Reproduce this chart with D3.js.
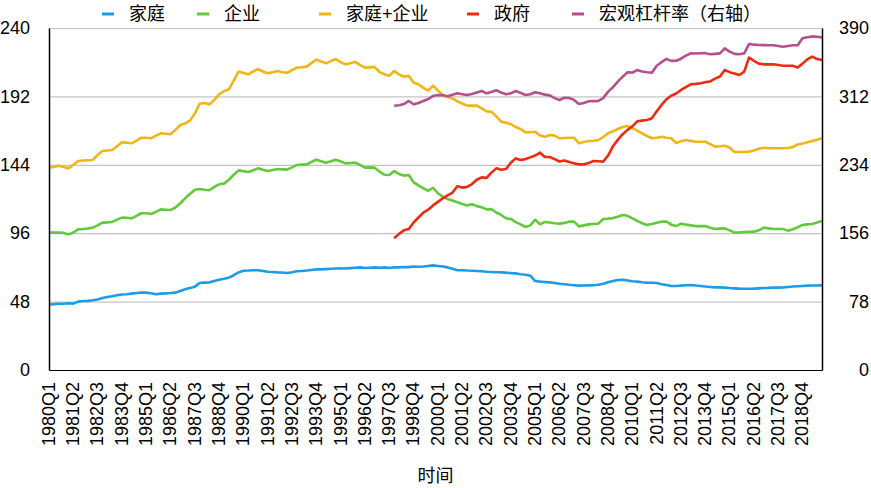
<!DOCTYPE html>
<html>
<head>
<meta charset="utf-8">
<script src="https://cdn.jsdelivr.net/npm/d3@7"></script>
<style>
  body { margin: 0; background: #fff; }
  svg { font-family: "Liberation Sans", Arial, "Noto Sans CJK SC", sans-serif; }
  .tick text { font-size: 18px; fill: #000; }
</style>
</head>
<body>
<svg width="871" height="488"></svg>
<script>
// quarters 1980Q1 .. 2019Q4
const years = d3.range(1980, 2020)
const quarters = years.flatMap(y => [1, 2, 3, 4].map(q => `${y}Q${q}`))

const leftTicks = [0, 48, 96, 144, 192, 240]
const rightTicks = [0, 78, 156, 234, 312, 390]

// 家庭
const household = [
  46.0, 46.2, 46.5, 46.5, 46.8, 46.6, 48.0, 48.4, 48.5, 48.9, 49.5, 50.5,
  51.2, 51.8, 52.5, 53.0, 53.2, 53.6, 54.0, 54.3, 54.3, 53.8, 53.2, 53.6,
  53.8, 54.0, 54.3, 55.5, 56.6, 57.5, 58.5, 61.0, 61.3, 61.5, 62.5, 63.3,
  64.0, 64.8, 66.5, 68.5, 69.7, 69.8, 70.0, 70.0, 69.5, 69.0, 68.8, 68.5,
  68.4, 68.1, 68.6, 69.3, 69.5, 69.8, 70.2, 70.6, 70.6, 70.8, 71.0, 71.2,
  71.3, 71.2, 71.5, 71.8, 72.0, 71.6, 71.8, 72.0, 71.8, 72.0, 71.6, 72.0,
  72.0, 72.3, 72.2, 72.6, 72.5, 72.6, 73.0, 73.4, 73.0, 72.6, 72.0, 71.0,
  70.0, 70.0, 69.8, 69.7, 69.5, 69.3, 69.0, 68.8, 68.6, 68.5, 68.3, 68.0,
  67.8, 67.2, 66.8, 66.2, 62.4, 62.0, 61.8, 61.5, 61.0, 60.5, 60.2, 59.8,
  59.5, 59.2, 59.3, 59.4, 59.5, 59.8, 60.5, 61.5, 62.5, 63.2, 63.3, 62.8,
  62.3, 62.0, 61.6, 61.3, 61.2, 61.0, 60.2, 59.6, 59.0, 58.9, 59.2, 59.5,
  59.6, 59.3, 59.0, 58.6, 58.3, 58.0, 58.0, 57.8, 57.5, 57.3, 57.1, 57.0,
  57.0, 57.1, 57.3, 57.5, 57.6, 57.8, 57.8, 58.0, 58.3, 58.6, 58.8, 59.0,
  59.2, 59.3, 59.3, 59.4
]

// 企业
const enterprise = [
  96.6, 96.4, 96.5, 96.2, 95.2, 96.5, 98.7, 98.9, 99.3, 99.9, 101.5, 103.4,
  103.6, 103.9, 105.5, 106.9, 106.8, 106.4, 108.2, 110.0, 110.0, 109.5, 111.0, 112.7,
  112.5, 112.3, 114.0, 117.0, 120.5, 123.5, 126.5, 127.0, 126.5, 126.1, 128.5, 130.3,
  130.8, 133.5, 137.0, 140.1, 139.5, 138.9, 140.2, 141.5, 140.5, 139.6, 140.3, 141.0,
  140.8, 140.6, 142.2, 143.9, 144.1, 144.3, 146.0, 147.6, 146.5, 145.5, 146.5, 147.6,
  146.3, 145.0, 145.3, 145.5, 143.9, 142.0, 142.2, 142.0, 139.2, 137.0, 136.8, 139.6,
  137.6, 136.4, 136.8, 131.7, 129.5, 127.5, 125.8, 127.9, 124.0, 121.6, 120.0, 119.0,
  117.7, 116.5, 115.5, 116.3, 115.0, 114.2, 112.7, 112.9, 110.5, 108.8, 106.5, 106.0,
  103.8, 102.2, 100.4, 101.5, 105.5, 102.2, 103.9, 103.5, 103.0, 102.7, 103.2, 104.1,
  104.1, 100.8, 101.5, 102.2, 102.5, 102.7, 106.0, 106.2, 106.6, 107.5, 108.8, 108.2,
  106.4, 104.6, 103.0, 101.8, 102.5, 103.3, 104.1, 104.1, 102.0, 101.0, 102.7, 102.0,
  101.5, 101.0, 101.0, 101.0, 99.8, 98.9, 99.2, 99.4, 98.0, 96.4, 96.5, 96.8,
  97.0, 97.1, 98.0, 99.9, 99.4, 98.9, 98.9, 98.9, 97.8, 98.8, 100.2, 101.8,
  102.2, 102.5, 103.5, 104.6
]

// 家庭+企业
const privateSector = [
  142.0, 142.5, 143.4, 142.5, 141.5, 144.0, 146.7, 147.0, 147.2, 147.4, 151.0, 153.7,
  154.0, 154.4, 157.0, 159.8, 159.5, 159.1, 161.0, 163.0, 163.0, 162.6, 164.5, 166.1,
  165.8, 165.4, 168.5, 171.9, 173.0, 175.0, 180.1, 186.9, 187.4, 186.4, 189.5, 193.4,
  195.8, 197.0, 203.0, 209.4, 208.5, 207.5, 209.5, 211.2, 209.5, 208.2, 209.0, 209.8,
  209.0, 208.6, 210.5, 212.2, 212.5, 212.9, 215.5, 217.8, 216.5, 215.2, 216.8, 218.2,
  216.0, 214.5, 215.2, 216.3, 214.0, 212.2, 212.4, 212.6, 209.0, 207.5, 206.5, 209.8,
  207.5, 205.8, 206.5, 201.5, 200.5, 198.0, 196.0, 199.5, 196.0, 193.0, 191.5, 190.6,
  188.5, 187.0, 185.5, 185.5, 185.5, 183.6, 181.5, 181.2, 178.0, 174.3, 173.5, 172.5,
  170.5, 169.1, 166.8, 166.8, 167.2, 164.5, 163.7, 164.9, 164.5, 162.6, 162.8, 163.0,
  163.0, 159.1, 160.0, 160.7, 160.9, 161.4, 163.5, 166.1, 167.5, 169.1, 170.5, 171.2,
  169.8, 168.0, 166.0, 164.2, 162.6, 163.0, 163.7, 163.0, 162.6, 159.3, 160.5, 161.4,
  160.8, 160.2, 160.2, 160.2, 158.5, 156.7, 157.0, 157.4, 156.0, 153.0, 153.0, 153.1,
  153.2, 154.0, 155.2, 156.0, 155.6, 155.6, 155.6, 155.6, 155.8, 156.5, 158.3, 159.0,
  159.8, 160.7, 161.6, 162.6
]

// 政府 (from 1997Q4)
const government = [
  92.4, 95.5, 98.0, 99.0, 103.5, 107.0, 110.5, 112.5, 115.5, 118.0, 120.5, 122.5,
  124.5, 129.0, 128.0, 128.5, 130.5, 133.5, 135.2, 134.8, 138.5, 141.5, 140.5, 141.0,
  145.5, 148.5, 147.4, 148.0, 149.2, 150.5, 152.5, 149.5, 149.5, 148.0, 146.3, 147.0,
  146.0, 145.0, 144.3, 144.3, 145.2, 146.7, 146.5, 146.2, 150.5, 157.0, 161.5, 165.5,
  168.5, 171.0, 174.5, 175.0, 175.4, 176.6, 181.5, 186.0, 190.0, 192.5, 194.0, 196.5,
  198.5, 200.5, 200.8, 201.2, 202.0, 202.5, 204.5, 206.0, 210.5, 209.0, 208.0, 207.0,
  209.4, 219.2, 217.0, 215.0, 214.5, 214.5, 214.5, 214.0, 213.5, 213.5, 213.5, 212.2,
  215.0, 218.0, 219.9, 218.2, 217.5
]

// 宏观杠杆率（右轴） (from 1997Q4)
const macroLeverage = [
  301.4, 302.0, 303.3, 306.8, 303.0, 304.5, 306.8, 309.0, 312.5, 313.6, 313.3, 312.1,
  314.0, 315.5, 314.5, 313.6, 314.7, 316.5, 318.2, 315.5, 317.0, 319.0, 316.5, 314.4,
  315.5, 318.2, 316.0, 313.6, 314.5, 316.7, 315.5, 314.0, 313.2, 310.0, 307.9, 310.5,
  310.2, 308.0, 303.3, 304.5, 306.4, 306.6, 306.8, 310.0, 317.4, 322.5, 328.8, 334.5,
  339.5, 339.1, 342.1, 340.5, 339.5, 339.1, 347.0, 351.0, 354.7, 352.5, 352.7, 355.0,
  358.5, 361.1, 361.0, 361.2, 361.3, 360.0, 360.5, 361.1, 366.8, 363.0, 360.5, 360.0,
  361.1, 371.8, 371.0, 370.6, 370.5, 370.3, 370.3, 369.5, 368.7, 369.5, 370.3, 370.3,
  378.2, 379.5, 380.4, 380.0, 379.3
]
const lateStart = quarters.indexOf('1997Q4')

const seriesNames = ['家庭', '企业', '家庭+企业', '政府', '宏观杠杆率（右轴）']
const seriesColors = ['#1E9BE8', '#62C93C', '#F2B517', '#EE2A12', '#B4508E']

const svg = d3.select('svg')
const margin = { top: 28, right: 49, bottom: 118, left: 49 }
const width = +svg.attr('width')
const height = +svg.attr('height')
const innerW = width - margin.left - margin.right
const innerH = height - margin.top - margin.bottom

const x = d3.scalePoint().domain(quarters).range([margin.left, margin.left + innerW])
const yL = d3.scaleLinear().domain([0, 240]).range([margin.top + innerH, margin.top])
const yR = d3.scaleLinear().domain([0, 390]).range([margin.top + innerH, margin.top])

// grid
svg.append('g')
  .attr('transform', `translate(${margin.left},0)`)
  .call(d3.axisLeft(yL).tickValues(leftTicks.slice(1)).tickSize(-innerW).tickFormat(''))
  .call(g => g.select('.domain').remove())
  .call(g => g.selectAll('.tick line').attr('stroke', '#c4c4c4').attr('stroke-width', 1.2))

// lines
const series = [
  { values: household, axis: yL, offset: 0 },
  { values: enterprise, axis: yL, offset: 0 },
  { values: privateSector, axis: yL, offset: 0 },
  { values: government, axis: yL, offset: lateStart },
  { values: macroLeverage, axis: yR, offset: lateStart }
]

series.forEach((s, k) => {
  const line = d3.line()
    .x((d, i) => x(quarters[i + s.offset]))
    .y(d => s.axis(d))
  svg.append('path')
    .datum(s.values)
    .attr('fill', 'none')
    .attr('stroke', seriesColors[k])
    .attr('stroke-width', 2.6)
    .attr('stroke-linejoin', 'round')
    .attr('d', line)
})

// axes
const yAxisL = svg.append('g')
  .attr('transform', `translate(${margin.left},0)`)
  .call(d3.axisLeft(yL).tickValues(leftTicks).tickSize(0).tickPadding(19))
yAxisL.select('.domain').attr('stroke', '#000').attr('stroke-width', 1.5)
yAxisL.selectAll('text').attr('font-size', 18)

const yAxisR = svg.append('g')
  .attr('transform', `translate(${margin.left + innerW},0)`)
  .call(d3.axisRight(yR).tickValues(rightTicks).tickSize(0))
yAxisR.select('.domain').attr('stroke', '#000').attr('stroke-width', 1.5)
yAxisR.selectAll('text').attr('font-size', 18).attr('text-anchor', 'end').attr('x', 47)

const xAxis = svg.append('g')
  .attr('transform', `translate(0,${margin.top + innerH})`)
  .call(d3.axisBottom(x).tickValues(quarters.filter((q, i) => i % 5 === 0)).tickSize(0))
xAxis.select('.domain').attr('stroke', '#000').attr('stroke-width', 1)
xAxis.selectAll('text')
  .attr('font-size', 18)
  .attr('transform', 'rotate(-90)')
  .attr('text-anchor', 'end')
  .attr('x', -12)
  .attr('y', -1)
  .attr('dy', '0.35em')

svg.append('text')
  .attr('x', margin.left + innerW / 2)
  .attr('y', 482)
  .attr('text-anchor', 'middle')
  .attr('font-size', 18)
  .text('时间')

// legend
const legendX = [102, 197, 319, 467, 572]
const legend = svg.append('g')
seriesNames.forEach((name, k) => {
  const g = legend.append('g').attr('transform', `translate(${legendX[k]},14)`)
  g.append('line').attr('x1', 0).attr('x2', 12)
    .attr('stroke', seriesColors[k]).attr('stroke-width', 3)
  g.append('text').attr('x', 27).attr('dy', '0.35em')
    .attr('font-size', 18).text(name)
})
</script>
</body>
</html>
